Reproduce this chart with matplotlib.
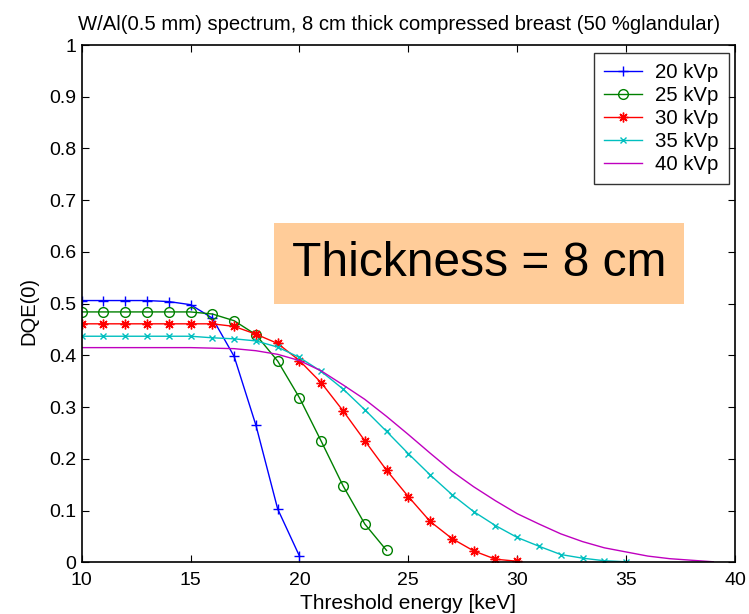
import numpy as np
import matplotlib
matplotlib.use('Agg')
import matplotlib.pyplot as plt

plt.rcParams['font.family'] = ['Liberation Sans', 'DejaVu Sans']

# DQE(0) vs threshold energy
e20 = [10, 11, 12, 13, 14, 15, 16, 17, 18, 19, 20]
d20 = [0.506, 0.506, 0.506, 0.506, 0.504, 0.498, 0.472, 0.398, 0.265, 0.103, 0.012]

e25 = [10, 11, 12, 13, 14, 15, 16, 17, 18, 19, 20, 21, 22, 23, 24]
d25 = [0.484, 0.484, 0.484, 0.484, 0.484, 0.484, 0.480, 0.467, 0.440, 0.389, 0.318,
       0.234, 0.148, 0.074, 0.023]

e30 = [10, 11, 12, 13, 14, 15, 16, 17, 18, 19, 20, 21, 22, 23, 24, 25, 26, 27, 28, 29, 30]
d30 = [0.461, 0.461, 0.461, 0.461, 0.461, 0.461, 0.461, 0.456, 0.441, 0.423, 0.390,
       0.347, 0.293, 0.235, 0.178, 0.127, 0.079, 0.046, 0.022, 0.006, 0.002]

e35 = [10, 11, 12, 13, 14, 15, 16, 17, 18, 19, 20, 21, 22, 23, 24, 25, 26, 27, 28,
       29, 30, 31, 32, 33, 34, 35]
d35 = [0.437, 0.437, 0.437, 0.437, 0.437, 0.437, 0.434, 0.432, 0.428, 0.416, 0.396,
       0.369, 0.335, 0.295, 0.253, 0.210, 0.169, 0.131, 0.098, 0.071, 0.048, 0.031,
       0.015, 0.008, 0.003, 0.001]

e40 = [10, 11, 12, 13, 14, 15, 16, 17, 18, 19, 20, 21, 22, 23, 24, 25, 26, 27, 28,
       29, 30, 31, 32, 33, 34, 35, 36, 37, 38, 39]
d40 = [0.415, 0.415, 0.415, 0.415, 0.415, 0.415, 0.414, 0.413, 0.409, 0.402, 0.390,
       0.370, 0.343, 0.315, 0.282, 0.247, 0.211, 0.176, 0.146, 0.119, 0.094, 0.074,
       0.055, 0.040, 0.028, 0.020, 0.012, 0.007, 0.004, 0.001]

labels = ['20 kVp', '25 kVp', '30 kVp', '35 kVp', '40 kVp']
xticks = [10, 15, 20, 25, 30, 35, 40]
yticks = [0, 0.1, 0.2, 0.3, 0.4, 0.5, 0.6, 0.7, 0.8, 0.9, 1]
ytick_labels = ['0', '0.1', '0.2', '0.3', '0.4', '0.5', '0.6', '0.7', '0.8', '0.9', '1']

W, H = 749, 614
fig = plt.figure(figsize=(W / 100, H / 100), dpi=100)
ax = fig.add_axes([81.7 / W, 1 - 562.3 / H, (735 - 81.7) / W, (562.3 - 45) / H])

ax.plot(e20, d20, color='#0000ff', marker='+', ms=7, mew=1, lw=1, label=labels[0])
ax.plot(e25, d25, color='#008000', marker='o', ms=7, mfc='none', mew=1, lw=1, label=labels[1])
ax.plot(e30, d30, color='#ff0000', marker=(8, 2, 0), ms=7, mew=1, lw=1, label=labels[2])
ax.plot(e35, d35, color='#00bfbf', marker='x', ms=4, mew=1, lw=1, label=labels[3])
ax.plot(e40, d40, color='#bf00bf', lw=1, label=labels[4])

ax.set_xlim(10, 40)
ax.set_ylim(0, 1)
ax.set_xticks(xticks)
ax.set_yticks(yticks)
ax.set_yticklabels(ytick_labels)
ax.tick_params(direction='in', top=True, right=True, labelsize=14, length=5)
ax.tick_params(axis='x', pad=7)
ax.tick_params(axis='y', pad=4)
for s in ax.spines.values():
    s.set_linewidth(1.2)

ax.set_xlabel('Threshold energy [keV]', fontsize=15, labelpad=3.5)
ax.set_ylabel('DQE(0)', fontsize=14.5)
ax.yaxis.set_label_coords(-0.067, 0.485)
ax.set_title('W/Al(0.5 mm) spectrum, 8 cm thick compressed breast (50 %glandular)',
             fontsize=14.6, pad=11, x=0.486)

leg = ax.legend(loc='upper right', fontsize=14.7, frameon=True, fancybox=False,
                edgecolor='black', handlelength=1.85, handletextpad=0.65,
                borderpad=0.5, labelspacing=0.2, borderaxespad=0,
                bbox_to_anchor=(1 - 6 / 653.3, 1 - 7.7 / 517.3))
leg.get_frame().set_linewidth(1)

ax.text(0.608, 0.578, 'Thickness = 8 cm', transform=ax.transAxes, fontsize=34.5,
        ha='center', va='center',
        bbox=dict(boxstyle='square,pad=0.38', facecolor='#ffcc99', edgecolor='none'))

fig.savefig('out.png', dpi=100)
